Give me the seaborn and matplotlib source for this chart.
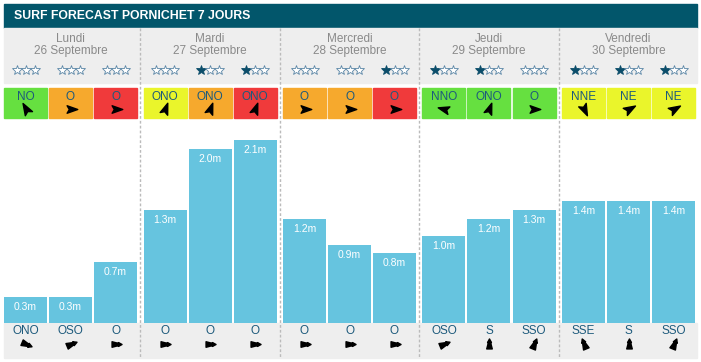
import numpy as np
import pandas as pd
import matplotlib
matplotlib.use("Agg")
import matplotlib.pyplot as plt
import seaborn as sns
from matplotlib.patches import Rectangle
from matplotlib.lines import Line2D
from matplotlib.path import Path
from matplotlib.transforms import Affine2D, blended_transform_factory

days = ["Lundi", "Mardi", "Mercredi", "Jeudi", "Vendredi"]
dates = ["26 Septembre", "27 Septembre", "28 Septembre", "29 Septembre", "30 Septembre"]
heights = [0.3, 0.3, 0.7, 1.3, 2.0, 2.1, 1.2, 0.9, 0.8, 1.0, 1.2, 1.3, 1.4, 1.4, 1.4]
swell_dir = ["ONO", "OSO", "O", "O", "O", "O", "O", "O", "O",
             "OSO", "S", "SSO", "SSE", "S", "SSO"]
wind_dir = ["NO", "O", "O", "ONO", "ONO", "ONO", "O", "O", "O",
            "NNO", "ONO", "O", "NNE", "NE", "NE"]
wind_rating = ["good", "medium", "bad", "fair", "medium", "bad", "medium", "medium", "bad",
               "good", "good", "good", "fair", "fair", "fair"]
stars = [0, 0, 0, 0, 1, 1, 0, 0, 1, 1, 1, 0, 1, 1, 1]

rating_colors = {"good": "#66e040", "fair": "#eaf52b", "medium": "#f6a92d", "bad": "#f03a3b"}
bearing = {"N": 0, "NNE": 22.5, "NE": 45, "ENE": 67.5, "E": 90, "ESE": 112.5, "SE": 135,
           "SSE": 157.5, "S": 180, "SSO": 202.5, "SO": 225, "OSO": 247.5, "O": 270,
           "ONO": 292.5, "NO": 315, "NNO": 337.5}
wind_icon_angle = {"NO": 120, "O": 0, "ONO": 70, "NNO": 165, "NNE": -65, "NE": 30}

sns.set_style("white")
plt.rcParams["font.family"] = ["Liberation Sans", "DejaVu Sans"]

W, H = 701, 362
fig = plt.figure(figsize=(W / 100, H / 100), dpi=100)


def fx(px):
    return px / W


def fy(py):
    return 1 - py / H


teal = "#02566b"
gray_bg = "#eeeeee"
text_teal = "#1d5a7c"
bar_color = "#66c4df"

# header + gray bands (kept under the axes)
fig.add_artist(Rectangle((fx(4), fy(28)), fx(693), 24 / H, color=teal,
                         transform=fig.transFigure, zorder=-10))
fig.text(fx(14), fy(16), "SURF FORECAST PORNICHET 7 JOURS", color="white",
         weight="bold", size=8.8, va="center")
fig.add_artist(Rectangle((fx(4), fy(83)), fx(693), 55 / H, color=gray_bg,
                         transform=fig.transFigure, zorder=-10))
fig.add_artist(Rectangle((fx(4), fy(358)), fx(693), 35 / H, color=gray_bg,
                         transform=fig.transFigure, zorder=-10))

arrow_head = Path([(1, 0), (-0.7, 0.6), (-0.35, 0), (-0.7, -0.6), (1, 0)],
                  [Path.MOVETO, Path.LINETO, Path.LINETO, Path.LINETO, Path.CLOSEPOLY])
swell_icon = Path([(0, 1), (0.35, 0.35), (0.2, 0.35), (0.5, -0.8), (-0.5, -0.8),
                   (-0.2, 0.35), (-0.35, 0.35), (0, 1)],
                  [Path.MOVETO] + [Path.LINETO] * 6 + [Path.CLOSEPOLY])

px_per_m = 87
slot = 45
bw = 43 / slot

for d in range(5):
    left = 4 + d * 139.5
    ax = fig.add_axes([fx(left), fy(323), fx(133), (323 - 83) / H])
    ax.patch.set_alpha(0)
    df = pd.DataFrame({"slot": [0, 1, 2], "height": heights[d * 3:d * 3 + 3]})
    sns.barplot(data=df, x="slot", y="height", color=bar_color, saturation=1,
                width=bw, ax=ax, linewidth=0)
    ax.set_xlim(-bw / 2, 2 + bw / 2)
    ax.set_ylim(0, 240 / px_per_m)
    ax.axis("off")
    trans = blended_transform_factory(ax.transData, fig.transFigure)

    fig.text(fx(left + 66.5), fy(39), days[d], color="#8a8a8a", size=8.5, ha="center", va="center")
    fig.text(fx(left + 66.5), fy(51), dates[d], color="#8a8a8a", size=8.5, ha="center", va="center")

    for i in range(3):
        k = d * 3 + i
        h = heights[k]
        ax.text(i, h - 10 / px_per_m, f"{h:.1f}m", color="white", size=7.5,
                ha="center", va="center")
        # stars (markers)
        for s in range(3):
            filled = s < stars[k]
            ax.plot([i + (s - 1) * 0.2], [fy(70)], marker="*", markersize=7.5,
                    mfc="#0b4d6a" if filled else "white",
                    mec="#0b4d6a" if filled else "#5a86a6", mew=0.6,
                    ls="none", transform=trans, clip_on=False)
        # wind box
        ax.add_patch(Rectangle((i - bw / 2, fy(118)), bw, 30 / H, transform=trans,
                               color=rating_colors[wind_rating[k]], clip_on=False))
        ax.text(i, fy(96.5), wind_dir[k], color=text_teal, size=8.5, ha="center",
                va="center", transform=trans, clip_on=False)
        mk = arrow_head.transformed(Affine2D().rotate_deg(wind_icon_angle[wind_dir[k]]))
        ax.plot([i], [fy(109)], marker=mk, markersize=9, color="black", ls="none",
                transform=trans, clip_on=False)
        # swell direction
        ax.text(i, fy(331), swell_dir[k], color=text_teal, size=8.5, ha="center",
                va="center", transform=trans, clip_on=False)
        rot = -(bearing[swell_dir[k]] + 180)
        mk = swell_icon.transformed(Affine2D().rotate_deg(rot))
        ax.plot([i], [fy(344)], marker=mk, markersize=8, color="black", ls="none",
                transform=trans, clip_on=False)

    if d > 0:
        x = fx(left - 3.25)
        fig.add_artist(Line2D([x, x], [fy(28), fy(358)], transform=fig.transFigure,
                              color="#bbbbbb", lw=1, dashes=(2, 1.5)))

fig.savefig("out.png", dpi=100)
